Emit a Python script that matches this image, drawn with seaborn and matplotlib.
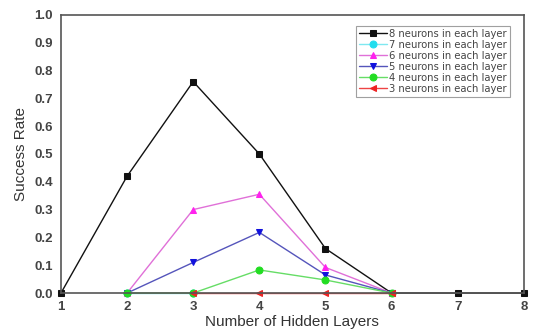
import matplotlib
matplotlib.use("Agg")
import matplotlib.pyplot as plt
import seaborn as sns
import pandas as pd

sns.set_style("white")
plt.rcParams["font.family"] = ["Liberation Sans", "DejaVu Sans"]

# Success rate vs. number of hidden layers, per layer width
layers_8 = [1, 2, 3, 4, 5, 6, 7, 8]
rate_8 = [0.0, 0.42, 0.76, 0.50, 0.16, 0.0, 0.0, 0.0]
layers_7 = [2, 3]
rate_7 = [0.0, 0.0]
layers_6 = [2, 3, 4, 5, 6]
rate_6 = [0.0, 0.30, 0.355, 0.092, 0.0]
layers_5 = [2, 3, 4, 5, 6]
rate_5 = [0.0, 0.11, 0.218, 0.065, 0.0]
layers_4 = [2, 3, 4, 5, 6]
rate_4 = [0.0, 0.0, 0.083, 0.047, 0.0]
layers_3 = [3, 4, 5, 6]
rate_3 = [0.0, 0.0, 0.0, 0.0]

labels = ["8 neurons in each layer", "7 neurons in each layer",
          "6 neurons in each layer", "5 neurons in each layer",
          "4 neurons in each layer", "3 neurons in each layer"]
xticks = [1, 2, 3, 4, 5, 6, 7, 8]
yticks = [0.0, 0.1, 0.2, 0.3, 0.4, 0.5, 0.6, 0.7, 0.8, 0.9, 1.0]

series = [
    (layers_8, rate_8, "#111111", "#111111", "s"),
    (layers_7, rate_7, "#7fe8f0", "#22ddee", "o"),
    (layers_6, rate_6, "#e070d8", "#ff22ee", "^"),
    (layers_5, rate_5, "#5555bb", "#1111dd", "v"),
    (layers_4, rate_4, "#66dd66", "#22dd22", "o"),
    (layers_3, rate_3, "#ee4444", "#ee2222", "<"),
]

fig = plt.figure(figsize=(5.35, 3.3), dpi=100)
ax = fig.add_axes([0.114, 0.112, 0.865, 0.843])

for (xs, ys, lc, mc, mk), lab in zip(series, labels):
    df = pd.DataFrame({"layers": xs, "rate": ys})
    sns.lineplot(data=df, x="layers", y="rate", ax=ax, color=lc, lw=1.0,
                 marker=mk, markersize=5, markerfacecolor=mc,
                 markeredgecolor=mc, label=lab, clip_on=False)

ax.set_xlim(1, 8)
ax.set_ylim(0, 1.0)
ax.set_xticks(xticks)
ax.set_yticks(yticks)
ax.set_xticklabels([str(t) for t in xticks])
ax.set_yticklabels([f"{t:.1f}" for t in yticks])
ax.tick_params(axis="both", length=0, pad=6, labelsize=9.5, colors="#444444")
for lbl in ax.get_xticklabels() + ax.get_yticklabels():
    lbl.set_fontweight("bold")
ax.set_xlabel("Number of Hidden Layers", fontsize=11, color="#333333", labelpad=1)
ax.set_ylabel("Success Rate", fontsize=11, color="#333333", labelpad=4)

for sp in ax.spines.values():
    sp.set_color("#555555")
    sp.set_linewidth(1.2)

leg = ax.legend(loc="upper right", bbox_to_anchor=(0.97, 0.96),
                prop={"family": "DejaVu Sans", "size": 7.2},
                frameon=True, fancybox=False, edgecolor="#888888",
                handlelength=2.8, handletextpad=0.2, labelspacing=0.1,
                borderpad=0.3, borderaxespad=0)
leg.get_frame().set_linewidth(0.8)
for t in leg.get_texts():
    t.set_color("#444444")

fig.savefig("out.png", dpi=100)
